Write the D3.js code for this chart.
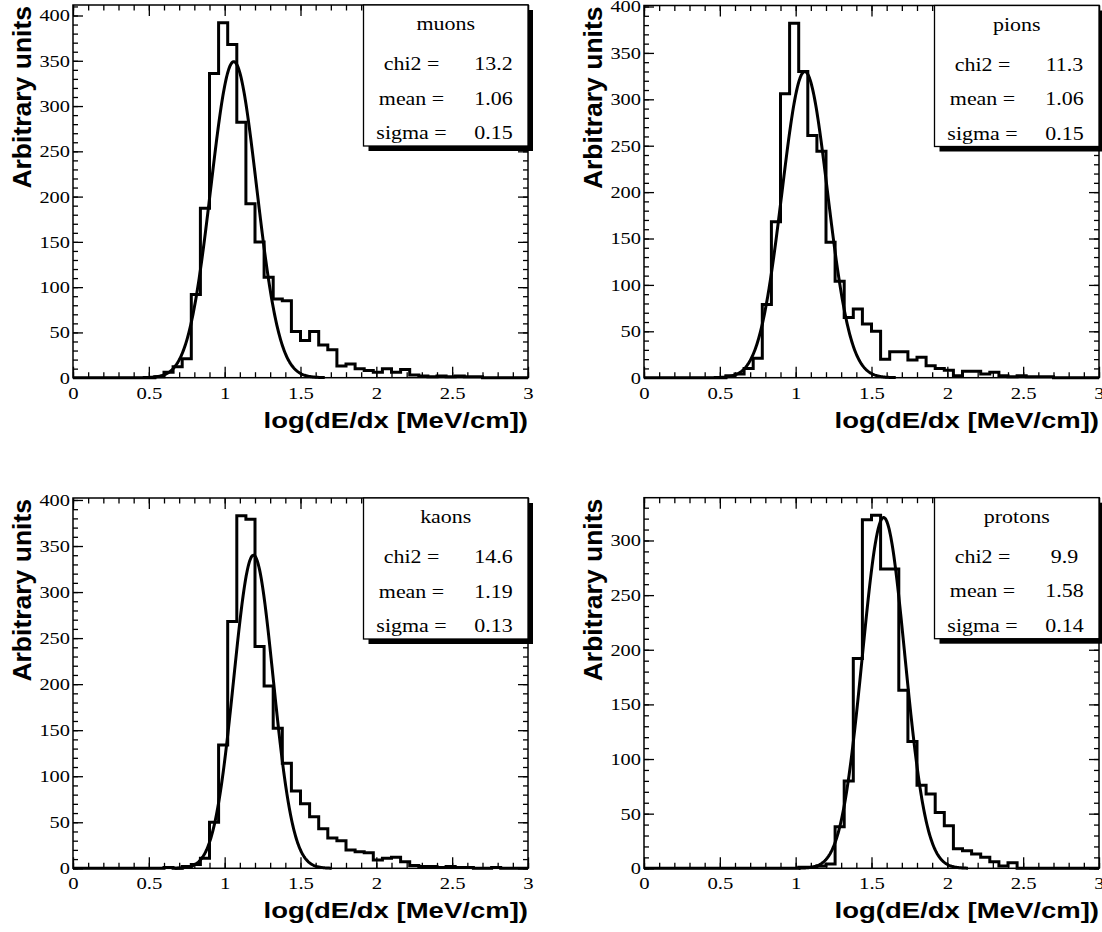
<!DOCTYPE html>
<html>
<head>
<meta charset="utf-8">
<script src="https://cdn.jsdelivr.net/npm/d3@7"></script>
<style>
    body { margin: 0; background: #fff; }
    .tickLabel { font-family: "Liberation Serif", "Times New Roman", serif; font-size: 17px; fill: #000; }
    .legendText { font-family: "Liberation Serif", "Times New Roman", serif; font-size: 18px; fill: #000; }
    .axisTitle { font-family: "Liberation Sans", Arial, sans-serif; font-weight: bold; fill: #000; }
</style>
</head>
<body>
<svg id="chart" width="1102" height="932"></svg>
<script>
// histogram contents, 50 bins of 0.06 from 0 to 3
let binWidth = 0.06;
let muons = [0, 0, 0, 0, 0, 0, 0, 0, 0, 1,
    6, 12, 21, 92, 187, 336, 392, 368, 282, 192,
    150, 111, 87, 85, 51, 41, 51, 36, 31, 13,
    15, 10, 8, 6, 10, 6, 9, 3, 2, 1,
    2, 1, 2, 1, 1, 0, 0, 0, 0, 0];
let pions = [0, 0, 0, 0, 0, 0, 0, 0, 0, 2,
    4, 10, 21, 79, 168, 306, 382, 330, 261, 244,
    146, 104, 65, 74, 58, 50, 20, 28, 28, 19,
    22, 13, 10, 8, 2, 7, 7, 4, 6, 2,
    1, 2, 1, 1, 1, 0, 0, 0, 0, 0];
let kaons = [0, 0, 0, 0, 0, 0, 0, 0, 0, 0,
    1, 0, 2, 4, 11, 50, 134, 268, 383, 379,
    241, 198, 152, 114, 84, 70, 56, 43, 33, 30,
    20, 18, 17, 9, 11, 12, 7, 3, 2, 2,
    1, 2, 1, 1, 0, 0, 1, 0, 0, 0];
let protons = [0, 0, 0, 0, 0, 0, 0, 0, 0, 0,
    0, 0, 0, 0, 0, 0, 0, 1, 1, 2,
    4, 38, 80, 192, 319, 323, 274, 274, 163, 116,
    76, 68, 51, 39, 18, 16, 13, 10, 6, 2,
    5, 0, 0, 0, 0, 0, 0, 0, 0, 0];

// gaussian fit results
let names = ["muons", "pions", "kaons", "protons"];
let chi2 = ["13.2", "11.3", "14.6", "9.9"];
let means = [1.06, 1.06, 1.19, 1.58];
let sigmas = [0.15, 0.15, 0.13, 0.14];
let amplitudes = [349, 330, 340, 321];

let xTicks = [0, 0.5, 1, 1.5, 2, 2.5, 3];
let xTitle = "log(dE/dx [MeV/cm])";
let yTitle = "Arbitrary units";

let hists = [muons, pions, kaons, protons];

// pad frames
let frames = [
    { left: 73, top: 5, bottom: 377.7 },
    { left: 644, top: 5.5, bottom: 377.7 },
    { left: 73, top: 498, bottom: 868.3 },
    { left: 644, top: 497.7, bottom: 868.3 }
];
let frameWidth = 455;

let svg = d3.select("#chart");

let styleAxis = function (g, scaleX) {
    g.select(".domain").remove();
    g.selectAll(".tick line").attr("stroke", "#000").attr("stroke-width", 1.3);
    g.attr("font-family", null).attr("font-size", null);
    g.selectAll(".tick text").attr("class", "tickLabel").attr("transform", `scale(${scaleX},1)`);
};

let drawPanel = function (k) {
    let f = frames[k];
    let w = frameWidth;
    let h = f.bottom - f.top;
    let data = hists[k];
    let yMax = 1.05 * d3.max(data);

    let g = svg.append("g").attr("transform", `translate(${f.left},${f.top})`);

    let xScale = d3.scaleLinear().domain([0, 3]).range([0, w]);
    let yScale = d3.scaleLinear().domain([0, yMax]).range([h, 0]);

    let xMinor = d3.range(0, 3.0001, 0.1);
    let yMajor = d3.range(0, yMax, 50);
    let yMinor = d3.range(0, yMax, 10);

    // bottom + top
    g.append("g").attr("transform", `translate(0,${h})`)
        .call(d3.axisBottom(xScale).tickValues(xMinor).tickSize(-5.5).tickFormat(""))
        .call(a => styleAxis(a, 1));
    g.append("g").attr("transform", `translate(0,${h})`)
        .call(d3.axisBottom(xScale).tickValues(xTicks).tickSize(-11).tickPadding(9).tickFormat(d => String(d)))
        .call(a => styleAxis(a, 1.22));
    g.append("g")
        .call(d3.axisTop(xScale).tickValues(xMinor).tickSize(-5.5).tickFormat(""))
        .call(a => styleAxis(a, 1));
    g.append("g")
        .call(d3.axisTop(xScale).tickValues(xTicks).tickSize(-11).tickFormat(""))
        .call(a => styleAxis(a, 1));

    // left + right
    g.append("g")
        .call(d3.axisLeft(yScale).tickValues(yMinor).tickSize(-5).tickFormat(""))
        .call(a => styleAxis(a, 1));
    g.append("g")
        .call(d3.axisLeft(yScale).tickValues(yMajor).tickSize(-10).tickPadding(2.5).tickFormat(d => String(d)))
        .call(a => styleAxis(a, 1.2));
    g.append("g").attr("transform", `translate(${w},0)`)
        .call(d3.axisRight(yScale).tickValues(yMinor).tickSize(-5).tickFormat(""))
        .call(a => styleAxis(a, 1));
    g.append("g").attr("transform", `translate(${w},0)`)
        .call(d3.axisRight(yScale).tickValues(yMajor).tickSize(-10).tickFormat(""))
        .call(a => styleAxis(a, 1));

    // histogram outline
    let pts = data.map((v, i) => [i * binWidth, v]);
    pts.push([data.length * binWidth, data[data.length - 1]]);
    let stepLine = d3.line()
        .x(d => xScale(d[0]))
        .y(d => yScale(d[1]))
        .curve(d3.curveStepAfter);
    g.append("path").datum(pts)
        .attr("d", stepLine)
        .attr("fill", "none")
        .attr("stroke", "#000")
        .attr("stroke-width", 3);

    // fit
    let mu = means[k], s = sigmas[k], amp = amplitudes[k];
    let fitPts = d3.range(Math.max(0, mu - 4 * s), Math.min(3, mu + 4 * s), 0.004)
        .map(x => [x, amp * Math.exp(-0.5 * ((x - mu) / s) ** 2)]);
    g.append("path").datum(fitPts)
        .attr("d", d3.line().x(d => xScale(d[0])).y(d => yScale(d[1])))
        .attr("fill", "none")
        .attr("stroke", "#000")
        .attr("stroke-width", 3)
        .attr("stroke-linejoin", "round");

    // frame
    g.append("rect")
        .attr("width", w).attr("height", h)
        .attr("fill", "none")
        .attr("stroke", "#000")
        .attr("stroke-width", 1.5);

    // legend box with shadow
    let lx = 290.5, lw = w - lx, lh = 141;
    let lg = g.append("g").attr("transform", `translate(${lx},0)`);
    lg.append("rect").attr("x", 5).attr("y", 5).attr("width", lw).attr("height", lh).attr("fill", "#000");
    lg.append("rect").attr("width", lw).attr("height", lh)
        .attr("fill", "#fff").attr("stroke", "#000").attr("stroke-width", 1.3);

    let addText = function (x, y, str, anchor) {
        lg.append("text")
            .attr("class", "legendText")
            .attr("text-anchor", anchor)
            .attr("transform", `translate(${x},${y}) scale(1.22,1)`)
            .text(str);
    };
    addText(lw / 2, 25, names[k], "middle");
    let rows = [["chi2 =", chi2[k]], ["mean =", mu.toFixed(2)], ["sigma =", s.toFixed(2)]];
    rows.forEach((r, i) => {
        let yy = 65 + i * 34.5;
        addText(48, yy, r[0], "middle");
        addText(130, yy, r[1], "middle");
    });

    // axis titles
    g.append("text")
        .attr("class", "axisTitle")
        .attr("font-size", 21.5)
        .attr("text-anchor", "end")
        .attr("transform", `translate(${w},${h + 50}) scale(1.28,1)`)
        .text(xTitle);
    g.append("text")
        .attr("class", "axisTitle")
        .attr("font-size", 26.5)
        .attr("text-anchor", "end")
        .attr("transform", `translate(-42.5,1) rotate(-90)`)
        .text(yTitle);
};

d3.range(4).forEach(drawPanel);
</script>
</body>
</html>
